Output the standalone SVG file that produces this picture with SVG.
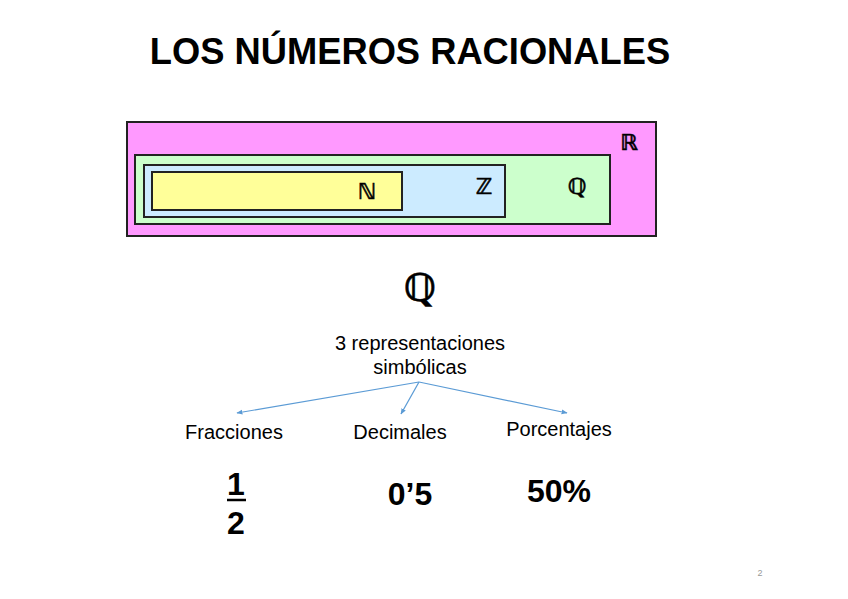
<svg xmlns="http://www.w3.org/2000/svg" width="848" height="599" viewBox="0 0 848 599">
<style>
.box{stroke:#222;stroke-width:2}
.ds{font-family:"DejaVu Serif","DejaVu Sans",serif;font-weight:bold;fill:#000;stroke:#000;stroke-width:0.5}
.t{font-family:"Liberation Sans",Arial,sans-serif;fill:#000}
.b{font-weight:bold}
.arr{stroke:#5B9BD5;stroke-width:1.2;fill:none;marker-end:url(#ah)}
</style>
<defs>
<marker id="ah" viewBox="0 0 10 10" refX="9" refY="5" markerWidth="6" markerHeight="6" orient="auto" markerUnits="userSpaceOnUse">
<path d="M0,1 L10,5 L0,9 z" fill="#5B9BD5"/>
</marker>
</defs>
<rect width="848" height="599" fill="#fff"/>
<text class="t b" x="410" y="64" font-size="36.3" text-anchor="middle">LOS NÚMEROS RACIONALES</text>
<g id="R"><rect class="box" x="127" y="122" width="529" height="114" fill="#FF99FF"/><text class="ds" x="629" y="150" font-size="22" text-anchor="middle">ℝ</text></g>
<g id="Q"><rect class="box" x="135" y="155" width="475" height="69" fill="#CCFFCC"/><text class="ds" x="577" y="194" font-size="22" text-anchor="middle">ℚ</text></g>
<g id="Z"><rect class="box" x="144" y="165" width="361" height="52" fill="#CCEBFF"/><text class="ds" x="484" y="194" font-size="22" text-anchor="middle">ℤ</text></g>
<g id="N"><rect class="box" x="152" y="172" width="250" height="38" fill="#FFFF99"/><text class="ds" x="367" y="199" font-size="22" text-anchor="middle">ℕ</text></g>
<g id="bigQ"><text class="ds" x="420" y="301" font-size="38" text-anchor="middle" stroke-width="0.9">ℚ</text></g>
<g id="root"><text class="t" x="420" y="350" font-size="20" text-anchor="middle">3 representaciones</text><text class="t" x="420" y="374" font-size="20" text-anchor="middle">simbólicas</text></g>
<g id="connectors">
<path class="arr" d="M419,382 L237,413"/>
<path class="arr" d="M419,382 L401,414"/>
<path class="arr" d="M419,382 L567,413"/>
</g>
<g id="frac"><text class="t" x="234" y="439" font-size="20" text-anchor="middle">Fracciones</text>
<text class="t b" x="236" y="495" font-size="32" text-anchor="middle">1</text>
<line x1="227" y1="500" x2="246" y2="500" stroke="#000" stroke-width="2.5"/>
<text class="t b" x="236" y="534" font-size="32" text-anchor="middle">2</text></g>
<g id="dec"><text class="t" x="400" y="439" font-size="20" text-anchor="middle">Decimales</text>
<text class="t b" x="410" y="505" font-size="32" text-anchor="middle">0’5</text></g>
<g id="pct"><text class="t" x="559" y="436" font-size="20" text-anchor="middle">Porcentajes</text>
<text class="t b" x="559" y="502" font-size="32" text-anchor="middle">50%</text></g>
<text x="760" y="576" font-size="9" font-family="Liberation Sans,Arial,sans-serif" fill="#999" text-anchor="middle">2</text>
</svg>
